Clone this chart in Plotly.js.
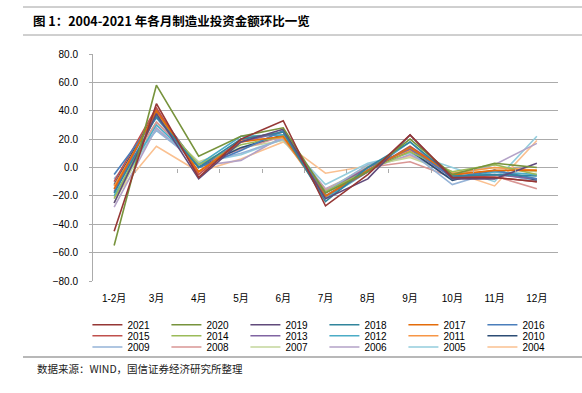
<!DOCTYPE html>
<html>
<head>
<meta charset="utf-8">
<script src="https://cdn.plot.ly/plotly-3.0.1.min.js"></script>
<style>html,body{margin:0;padding:0;background:#fff;}#chart{width:582px;height:393px;}</style>
</head>
<body>
<div id="chart"></div>
<script>
const months = ["1-2月","3月","4月","5月","6月","7月","8月","9月","10月","11月","12月"];
const years = ["2021","2020","2019","2018","2017","2016","2015","2014","2013","2012","2011","2010","2009","2008","2007","2006","2005","2004"];
const colors = ["#953735","#77933C","#604A7B","#31859C","#E46C0A","#4A7EBB","#C0504D","#9BBB59","#8064A2","#4BACC6","#F79646","#2C4D75","#95B3D7","#D99694","#C3D69B","#B3A2C7","#93CDDD","#FAC090"];
const v2021 = [-45, 45, -7, 20, 33, -27, -5, 23, -7, -7, -10];
const v2020 = [-55, 58, 8, 22, 28, -18, -3, 20, -5, 3, 0];
const v2019 = [-25, 38, -8, 18, 27, -22, -8, 23, -8, -8, 3];
const v2018 = [-18, 36, 0, 20, 25, -24, 0, 18, -6, -5, -6];
const v2017 = [-15, 40, -3, 18, 22, -20, -2, 14, -5, -2, -2];
const v2016 = [-5, 35, 0, 12, 26, -20, -2, 14, -7, -2, -8];
const v2015 = [-10, 42, -5, 20, 25, -20, -3, 15, -5, -7, -10];
const v2014 = [-22, 37, 2, 16, 22, -17, -2, 11, -3, 2, -5];
const v2013 = [-17, 40, 0, 18, 25, -18, 0, 13, -7, -5, -8];
const v2012 = [-20, 30, 2, 22, 23, -22, -3, 18, -8, -3, -5];
const v2011 = [-13, 38, -3, 19, 21, -21, 0, 12, -4, 0, -2];
const v2010 = [-12, 40, 0, 14, 23, -21, -2, 12, -9, -2, -9];
const v2009 = [-8, 26, 3, 10, 20, -17, 2, 11, -12, -3, -10];
const v2008 = [-15, 32, 2, 13, 22, -16, 0, 4, -7, -6, -15];
const v2007 = [-25, 32, 4, 14, 19, -16, 1, 7, -4, 0, -3];
const v2006 = [-28, 28, 1, 5, 22, -15, -1, 9, -6, 2, 17];
const v2005 = [-20, 27, 3, 9, 20, -12, 3, 10, 0, -10, 22];
const v2004 = [-21, 15, -3, 6, 18, -4, 1, 8, -3, -13, 19];
const series = [v2021,v2020,v2019,v2018,v2017,v2016,v2015,v2014,v2013,v2012,v2011,v2010,v2009,v2008,v2007,v2006,v2005,v2004];

const FONT = "Liberation Sans, Arial, Noto Sans CJK SC, sans-serif";
const legendNames = ["legend","legend2","legend3"];
const traces = [];
for (let i = series.length - 1; i >= 0; i--) {
  traces.push({
    type: "scatter", mode: "lines",
    x: months, y: series[i], name: years[i],
    line: {color: colors[i], width: 1.6},
    legend: legendNames[Math.floor(i / 6)],
    legendrank: i + 1,
    hoverinfo: "skip"
  });
}
traces.push({type:"scatter", x:[], y:[], xaxis:"x2", yaxis:"y", showlegend:false, hoverinfo:"skip"});

const boundaries = [];
for (let k = 0; k < months.length - 1; k++) boundaries.push(k + 0.5);

const grid = "#ababab";
function legendCfg(y) {
  return {orientation:"h", x:-0.012, xanchor:"left", y:y, yanchor:"middle",
    entrywidth:34, entrywidthmode:"pixels", itemwidth:30, traceorder:"normal",
    font:{family:FONT, size:10, color:"#000"}, bgcolor:"rgba(0,0,0,0)", borderwidth:0, tracegroupgap:0};
}
const layout = {
  width:582, height:393,
  margin:{l:93, r:24, t:54, b:112},
  paper_bgcolor:"#fff", plot_bgcolor:"#fff",
  font:{family:FONT, size:10, color:"#000"},
  title:{text:"<b>图 1：2004-2021 年各月制造业投资金额环比一览</b>", xref:"container", yref:"container",
    x:33/582, xanchor:"left", y:1-22/393, yanchor:"middle",
    font:{family:"Noto Sans CJK SC, Liberation Sans, sans-serif", size:12.5, color:"#000"}},
  xaxis:{type:"category", range:[-0.5, 10.5], showgrid:false, zeroline:false, showline:false,
    ticks:"", ticklabelstandoff:10, tickfont:{family:FONT, size:10, color:"#000"}, fixedrange:true},
  xaxis2:{overlaying:"x", anchor:"free", position:0.5, range:[-0.5, 10.5], tickmode:"array",
    tickvals:boundaries, ticks:"outside", ticklen:4, tickcolor:grid, tickwidth:1, showticklabels:false,
    showgrid:false, zeroline:false, showline:false, fixedrange:true},
  yaxis:{range:[-80, 80], dtick:20, tick0:0, tickformat:".1f", showgrid:true, gridcolor:grid, gridwidth:1,
    zeroline:true, zerolinecolor:grid, zerolinewidth:1, showline:true, linecolor:grid, linewidth:1,
    ticks:"outside", ticklen:3, tickcolor:grid, ticklabelstandoff:9,
    tickfont:{family:FONT, size:10, color:"#000"}, fixedrange:true},
  legend: legendCfg(-0.1925),
  legend2: legendCfg(-0.241),
  legend3: legendCfg(-0.2907),
  shapes:[
    {type:"line", xref:"paper", yref:"paper", x0:(23-93)/465, x1:(582-93)/465, y0:(281-7)/227, y1:(281-7)/227, line:{color:"#a0a0a0", width:1}},
    {type:"line", xref:"paper", yref:"paper", x0:(23-93)/465, x1:(582-93)/465, y0:(281-35)/227, y1:(281-35)/227, line:{color:"#a0a0a0", width:1}},
    {type:"line", xref:"paper", yref:"paper", x0:(23-93)/465, x1:(582-93)/465, y0:(281-357)/227, y1:(281-357)/227, line:{color:"#a0a0a0", width:1.5}}
  ],
  annotations:[
    {text:"数据来源：WIND，国信证券经济研究所整理", xref:"paper", yref:"paper", x:(35-93)/465, xanchor:"left",
     y:(281-368)/227, yanchor:"middle", showarrow:false, font:{family:"Noto Sans CJK SC, Liberation Sans, sans-serif", size:10.5, color:"#222"}}
  ],
  showlegend:true
};
Plotly.newPlot("chart", traces, layout, {staticPlot:true, displayModeBar:false});
</script>
</body>
</html>
